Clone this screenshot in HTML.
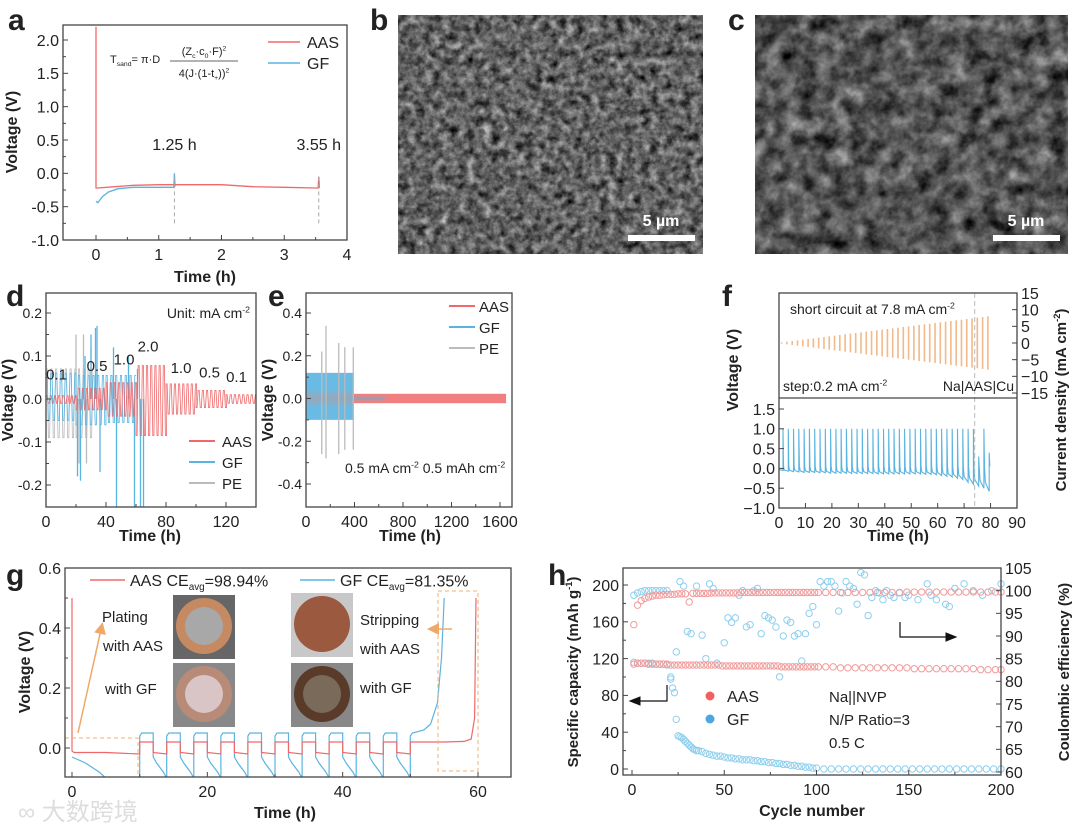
<!DOCTYPE html>
<html><head><meta charset="utf-8"><style>
html,body{margin:0;padding:0;background:#fff;}
svg{display:block;font-family:"Liberation Sans","Noto Sans CJK SC",sans-serif;}
text{fill:#222;}
</style></head><body>
<svg id="fig" width="1080" height="834" viewBox="0 0 1080 834" xmlns="http://www.w3.org/2000/svg">
<defs>
<filter id="semB" x="0" y="0" width="100%" height="100%" color-interpolation-filters="sRGB"><feTurbulence type="fractalNoise" baseFrequency="0.12" numOctaves="4" seed="4"/><feColorMatrix type="matrix" values="0.6 0.6 0 0 -0.22  0.6 0.6 0 0 -0.22  0.6 0.6 0 0 -0.22  0 0 0 0 1"/></filter>
<filter id="semC" x="0" y="0" width="100%" height="100%" color-interpolation-filters="sRGB"><feTurbulence type="fractalNoise" baseFrequency="0.06" numOctaves="4" seed="9"/><feColorMatrix type="matrix" values="0.55 0.55 0 0 -0.22  0.55 0.55 0 0 -0.22  0.55 0.55 0 0 -0.22  0 0 0 0 1"/></filter>
<marker id="arrO" markerWidth="8" markerHeight="8" refX="6" refY="4" orient="auto"><path d="M0,0 L8,4 L0,8 z" fill="#f0a868"/></marker>
<marker id="arrK" markerWidth="10" markerHeight="8" refX="8" refY="4" orient="auto"><path d="M0,0 L10,4 L0,8 z" fill="#111"/></marker>
</defs>
<g>
<rect x="398" y="15" width="305" height="239" fill="#666" filter="url(#semB)"/>
<line x1="628" y1="238" x2="695" y2="238" stroke="#fff" stroke-width="6"/>
<text x="661" y="226" text-anchor="middle" font-size="16" font-weight="bold" style="fill:#fff">5 µm</text>
</g>
<g>
<rect x="755" y="15" width="313" height="239" fill="#555" filter="url(#semC)"/>
<line x1="993" y1="238" x2="1060" y2="238" stroke="#fff" stroke-width="6"/>
<text x="1026" y="226" text-anchor="middle" font-size="16" font-weight="bold" style="fill:#fff">5 µm</text>
</g>
<g font-weight="bold" font-size="30">
<text x="8" y="30">a</text>
<text x="370" y="30">b</text>
<text x="728" y="30">c</text>
<text x="6" y="306">d</text>
<text x="268" y="306">e</text>
<text x="722" y="306">f</text>
<text x="6" y="585">g</text>
<text x="548" y="585">h</text>
</g>
<text x="18" y="820" font-size="24" style="fill:#ddd">∞ 大数跨境</text>
</svg>
<script>
// ---------- data ----------
const aT=[0,0,0.03,0.3,0.6,1.0,1.25,1.5,2.0,2.5,3.0,3.5,3.54,3.55,3.56];
const aAAS=[2.2,-0.22,-0.22,-0.2,-0.18,-0.17,-0.17,-0.17,-0.17,-0.2,-0.21,-0.22,-0.22,-0.05,-0.22];
const aGFt=[0,0.03,0.1,0.2,0.35,0.6,1.0,1.24,1.25,1.26];
const aGF=[-0.42,-0.44,-0.35,-0.28,-0.23,-0.21,-0.21,-0.21,0.0,-0.2];
const aMarks=[1.25,3.55];
const dSeg=[0,20,40,60,80,100,120,140];
const dAASup=[0.008,0.025,0.038,0.078,0.035,0.02,0.01];
const dAASdn=[-0.01,-0.025,-0.04,-0.085,-0.035,-0.02,-0.01];
const dGFup=[0.06,0.055,0.055];
const dGFdn=[-0.05,-0.06,-0.055];
const dGFspT=[21,23,26,30,33,34,36,45,47,55,59,61,63,65];
const dGFspV=[-0.18,-0.19,0.1,0.15,0.165,0.17,-0.17,0.12,-0.26,0.1,-0.26,0.07,-0.26,-0.25];
const dPEup=[0.07,0.07];
const dPEdn=[-0.09,-0.09];
const dPEseg=[0,20,32];
const dPEspT=[20,22,25,27,30];
const dPEspV=[0.15,-0.15,0.15,-0.15,0.12];
const dRates=["0.1","0.5","1.0","2.0","1.0","0.5","0.1"];
const dRateT=[7,34,52,68,90,109,127];
const dRateV=[0.045,0.065,0.08,0.11,0.06,0.05,0.04];
const eAASamp=0.022;
const eAASend=1650;
const eGFup=0.12, eGFdn=-0.1, eGFend=395;
const ePEamp=0.03;
const ePEspT=[130,165,270,320,390];
const ePEspUp=[0.22,0.34,0.26,0.24,0.24];
const ePEspDn=[-0.26,-0.28,-0.26,-0.24,-0.24];
const fCurr=[0.2,0.4,0.6,0.8,1.0,1.2,1.4,1.6,1.8,2.0,2.2,2.4,2.6,2.8,3.0,3.2,3.4,3.6,3.8,4.0,4.2,4.4,4.6,4.8,5.0,5.2,5.4,5.6,5.8,6.0,6.2,6.4,6.6,6.8,7.0,7.2,7.4,7.6,7.8,8.0];
const fVlow=[-0.05,-0.07,-0.08,-0.09,-0.1,-0.1,-0.1,-0.11,-0.11,-0.12,-0.12,-0.12,-0.12,-0.13,-0.13,-0.13,-0.13,-0.13,-0.14,-0.14,-0.14,-0.14,-0.14,-0.14,-0.14,-0.14,-0.14,-0.15,-0.15,-0.16,-0.18,-0.2,-0.22,-0.25,-0.28,-0.35,-0.4,-0.45,-0.5,-0.58];
const fVhigh=[1,1,1,1,1,1,1,1,1,1,1,1,1,1,1,1,1,1,1,1,1,1,1,1,1,1,1,1,1,1,1,1,1,1,1,1,1,0.3,1,0.4];
const fShort=74;
const gAASt=[0,0,0.3,5,9.9,10,10,12,12,14,14,16,16,18,18,20,20,22,22,24,24,26,26,28,28,30,30,32,32,34,34,36,36,38,38,40,40,42,42,44,44,46,46,48,48,50,50,55,58,59,59.5,59.7];
const gAAS=[0.5,-0.01,-0.015,-0.015,-0.02,-0.02,0.02,0.02,-0.015,-0.02,0.02,0.02,-0.015,-0.02,0.02,0.02,-0.015,-0.02,0.02,0.02,-0.015,-0.02,0.02,0.02,-0.015,-0.02,0.02,0.02,-0.015,-0.02,0.02,0.02,-0.015,-0.02,0.02,0.02,-0.015,-0.02,0.02,0.02,-0.015,-0.02,0.02,0.02,-0.015,-0.02,0.02,0.02,0.022,0.03,0.1,0.5];
const gGFt=[0,0.5,2,4,5,6,10,10,10.3,12,12,12.5,13.5,14,14,14.3,16,16,16.5,17.5,18,18,18.3,20,20,20.5,21.5,22,22,22.3,24,24,24.5,25.5,26,26,26.3,28,28,28.5,29.5,30,30,30.3,32,32,32.5,33.5,34,34,34.3,36,36,36.5,37.5,38,38,38.3,40,40,40.5,41.5,42,42,42.3,44,44,44.5,45.5,46,46,46.3,48,48,48.5,49.5,50,50,50.3,52,53,54,54.6,55];
const gGF=[-0.03,-0.035,-0.05,-0.08,-0.1,-0.1,-0.1,0.04,0.05,0.05,-0.03,-0.05,-0.08,-0.1,0.04,0.05,0.05,-0.03,-0.05,-0.08,-0.1,0.04,0.05,0.05,-0.03,-0.05,-0.08,-0.1,0.04,0.05,0.05,-0.03,-0.05,-0.08,-0.1,0.04,0.05,0.05,-0.03,-0.05,-0.08,-0.1,0.04,0.05,0.05,-0.03,-0.05,-0.08,-0.1,0.04,0.05,0.05,-0.03,-0.05,-0.08,-0.1,0.04,0.05,0.05,-0.03,-0.05,-0.08,-0.1,0.04,0.05,0.05,-0.03,-0.05,-0.08,-0.1,0.04,0.05,0.05,-0.03,-0.05,-0.08,-0.1,0.04,0.05,0.06,0.08,0.15,0.3,0.5];
const hCyc=[1,3,5,7,9,11,13,15,17,19,21,23,25,27,29,31,33,35,37,39,41,43,45,47,49,51,53,55,57,59,61,63,65,67,69,71,73,75,77,79,81,83,85,87,89,91,93,95,97,99,101,105,109,113,117,121,125,129,133,137,141,145,149,153,157,161,165,169,173,177,181,185,189,193,197,200];
const hAASCap=[114,115,115,115,114,114,114,114,114,114,113,113,113,113,113,113,113,113,113,113,113,113,113,113,112,112,112,112,112,112,112,112,112,112,112,112,112,112,112,112,111,111,111,111,111,111,111,111,111,111,111,111,111,110,110,110,110,110,110,110,110,110,110,109,109,109,109,109,109,109,109,109,108,108,108,108];
const hAASCE=[92.5,96.8,97.8,98.3,98.6,98.8,99,99,99.1,99.2,99.2,99.2,99.3,99.3,99.3,97.5,99.4,99.4,99.4,99.4,99.4,99.5,99.5,99.5,99.5,99.5,99.5,99.5,99.5,99.6,99.6,99.6,99.6,99.6,99.6,99.6,99.6,99.6,99.6,99.6,99.6,99.6,99.6,99.6,99.6,99.6,99.6,99.6,99.6,99.6,99.6,99.6,99.6,99.6,99.6,99.6,99.6,99.6,99.6,99.6,99.6,99.6,99.7,99.7,99.7,99.7,99.7,99.7,99.7,99.7,99.7,99.7,99.7,99.7,99.7,99.7];
const hGFcyc=[1,3,5,7,9,11,13,15,17,19,21,22,23,24,25,26,27,28,29,30,31,32,33,34,35,36,38,40,42,44,46,48,50,52,54,56,58,60,62,64,66,68,70,72,74,76,78,80,82,84,86,88,90,92,94,96,98,100,104,108,112,116,120,124,128,132,136,140,144,148,152,156,160,164,168,172,176,180,184,188,192,196,200];
const hGFCap=[116,115,115,115,115,115,114,114,114,113,100,88,83,54,36,35,34,32,30,28,26,24,22,21,20,20,19,17,16,15,14,14,13,12,12,11,11,10,10,10,9,9,8,8,7,7,6,6,5,5,4,4,3,3,2,2,1,1,0,0,0,0,0,0,0,0,0,0,0,0,0,0,0,0,0,0,0,0,0,0,0,0,0];
const hGFCEc=[1,3,5,7,9,11,13,15,17,19,21,24,26,28,30,32,35,38,40,42,44,46,50,52,54,56,58,60,62,64,66,68,70,72,74,76,78,80,82,84,86,88,90,92,94,96,98,100,102,104,106,108,110,112,114,116,118,120,122,124,126,128,130,132,134,136,138,140,142,145,148,150,155,160,162,165,170,172,175,180,185,190,195,200];
const hGFCE=[99,99.5,99.8,100,100,100,100,100,100,100,80.5,86.5,102,101,91,90.5,101,90.2,85,101.5,100.5,84,88.5,94,93,94,99,100,92,92.5,100,100.5,90.5,94.5,94,93.5,92,81,90,93.5,93,90,90.5,84.5,90.5,95,96.5,92.5,102,101,102,102,101,95.5,99.5,102,101,100.5,97,104,103.5,94.5,98.5,100,99.5,98,100,99,98.5,99.5,98.5,99,98,101.5,99,98,97,96.5,100.5,101.5,100,99,100,101.5];

// ---------- helpers ----------
const svg=document.getElementById('fig');
const NS='http://www.w3.org/2000/svg';
function mk(tag,attrs,parent){const e=document.createElementNS(NS,tag);for(const k in attrs)e.setAttribute(k,attrs[k]);(parent||svg).appendChild(e);return e;}
function lin(d0,d1,r0,r1){return v=>r0+(v-d0)*(r1-r0)/(d1-d0);}
function txt(x,y,s,fs,anchor,weight,rot){const t=mk('text',{x:x,y:y,'font-size':fs,'text-anchor':anchor||'start','font-weight':weight||'normal'});if(rot)t.setAttribute('transform','rotate('+rot+' '+x+' '+y+')');t.textContent=s;return t;}
function rtxt(x,y,parts,fs,anchor,weight,rot){const t=mk('text',{x:x,y:y,'font-size':fs,'text-anchor':anchor||'start','font-weight':weight||'normal'});if(rot)t.setAttribute('transform','rotate('+rot+' '+x+' '+y+')');
parts.forEach(p=>{const s=mk('tspan',{},t);s.textContent=p[0];if(p[1]==='sup'){s.setAttribute('font-size',fs*0.62);s.setAttribute('dy',-fs*0.4);}else if(p[1]==='sub'){s.setAttribute('font-size',fs*0.62);s.setAttribute('dy',fs*0.25);}
if(p[2])s.setAttribute('dy',p[2]);});return t;}
function frame(name,x0,y0,x1,y1){const r=mk('rect',{x:x0,y:y0,width:x1-x0,height:y1-y0,fill:'none',stroke:'#444','stroke-width':1.3});

}
function xAxis(pfx,sx,vals,labels,y,fs,minor){vals.forEach((v,i)=>{const l=mk('line',{x1:sx(v),x2:sx(v),y1:y,y2:y-5,stroke:'#444'});


const t=txt(sx(v),y+fs+4,labels[i],fs,'middle');


if(minor&&i<vals.length-1){const m=(v+vals[i+1])/2;mk('line',{x1:sx(m),x2:sx(m),y1:y,y2:y-3,stroke:'#444'});}});}
function yAxis(pfx,sy,vals,labels,x,fs,right,minor){vals.forEach((v,i)=>{const l=mk('line',{x1:x,x2:right?x-5:x+5,y1:sy(v),y2:sy(v),stroke:'#444'});


const t=txt(right?x+4:x-4,sy(v)+fs*0.36,labels[i],fs,right?'start':'end');


if(minor&&i<vals.length-1){const m=(v+vals[i+1])/2;mk('line',{x1:x,x2:right?x-3:x+3,y1:sy(m),y2:sy(m),stroke:'#444'});}});}
function path(xs,ys,sx,sy,color,w){let d='';xs.forEach((x,i)=>{d+=(i?'L':'M')+sx(x).toFixed(1)+','+sy(ys[i]).toFixed(1);});return mk('path',{d:d,fill:'none',stroke:color,'stroke-width':w||1.2});}
function wave(segs,ups,dns,step,sx,sy,color,w){let d='';let k=0;for(let s=0;s<ups.length;s++){for(let t=segs[s];t<segs[s+1];t+=step){const v=(k%2===0)?ups[s]:dns[s];d+=(d?'L':'M')+sx(t).toFixed(1)+','+sy(v).toFixed(1);d+='L'+sx(t+step*0.5).toFixed(1)+','+sy(v).toFixed(1);k++;}}return mk('path',{d:d,fill:'none',stroke:color,'stroke-width':w||1});}
const RED='#f0686a',BLUE='#5ab4e0',GRAY='#bbbbbb';

// ---------- panel a ----------
{const sx=lin(0,4,96,347),sy=lin(-1,2,240,40);
let p=path(aGFt,aGF,sx,sy,BLUE,1.3);


p=path(aT,aAAS,sx,sy,RED,1.3);


aMarks.forEach(m=>{const l=mk('line',{x1:sx(m),x2:sx(m),y1:sy(-0.75),y2:sy(-0.05),stroke:'#aaa','stroke-dasharray':'4,3'});


const t=txt(sx(m),sy(0.35),m.toFixed(2)+' h',16,'middle');

});
frame('a-plot-frame',63,25,347,240);
xAxis('a',sx,[0,1,2,3,4],['0','1','2','3','4'],240,16,true);
yAxis('a',sy,[-1,-0.5,0,0.5,1,1.5,2],['-1.0','-0.5','0.0','0.5','1.0','1.5','2.0'],63,16,false,true);
let t=txt(17,132,'Voltage (V)',16,'middle','bold',-90);


t=txt(205,282,'Time (h)',16,'middle','bold');


t=rtxt(110,63,[['T',''],['sand','sub'],['= π·D','','-2.7']],11);


rtxt(204,55,[['(Z',''],['c','sub'],['·c','','-2.7'],['0','sub'],['·F)','','-2.7'],['2','sup']],11,'middle');
rtxt(204,77,[['4(J·(1-t',''],['+','sub'],['))','','-2.7'],['2','sup']],11,'middle');
mk('line',{x1:170,x2:238,y1:61,y2:61,stroke:'#333','stroke-width':0.8});
let l=mk('line',{x1:268,x2:300,y1:42,y2:42,stroke:RED,'stroke-width':1.5});


t=txt(307,48,'AAS',16);


l=mk('line',{x1:268,x2:300,y1:63,y2:63,stroke:BLUE,'stroke-width':1.5});


t=txt(307,69,'GF',16);

}

// ---------- panel d ----------
{const sx=lin(0,140,46,256),sy=lin(-0.2,0.2,485,313);
const cl=mk('clipPath',{id:'clipD'});mk('rect',{x:46,y:293,width:210,height:214},cl);
const g=mk('g',{'clip-path':'url(#clipD)'});
let w=wave(dPEseg,dPEup,dPEdn,1.6,sx,sy,GRAY,0.8);g.appendChild(w);


dPEspT.forEach((t,i)=>{const l=mk('line',{x1:sx(t),x2:sx(t),y1:sy(0),y2:sy(dPEspV[i]),stroke:GRAY,'stroke-width':1.3},g);

});
w=wave(dSeg.slice(0,4),dGFup,dGFdn,1.6,sx,sy,BLUE,0.8);g.appendChild(w);


dGFspT.forEach((t,i)=>{const l=mk('line',{x1:sx(t),x2:sx(t),y1:sy(0),y2:sy(dGFspV[i]),stroke:BLUE,'stroke-width':1.3},g);

});
w=wave(dSeg,dAASup,dAASdn,1.4,sx,sy,RED,0.8);g.appendChild(w);


dRates.forEach((r,i)=>{const t=txt(sx(dRateT[i]),sy(dRateV[i]),r,15,'middle');

});
frame('d-plot-frame',46,293,256,507);
xAxis('d',sx,[0,40,80,120],['0','40','80','120'],507,16);
[20,60,100,140].forEach(v=>mk('line',{x1:sx(v),x2:sx(v),y1:507,y2:504,stroke:'#444'}));
yAxis('d',sy,[-0.2,-0.1,0,0.1,0.2],['-0.2','-0.1','0.0','0.1','0.2'],46,14,false,true);
let t=txt(13,400,'Voltage (V)',16,'middle','bold',-90);


t=txt(150,541,'Time (h)',16,'middle','bold');


t=rtxt(250,318,[['Unit: mA cm',''],['-2','sup']],14,'end');


const lg=[['AAS',RED],['GF',BLUE],['PE',GRAY]];
lg.forEach((e,i)=>{const l=mk('line',{x1:189,x2:215,y1:441+i*21,y2:441+i*21,stroke:e[1],'stroke-width':2});


const q=txt(222,447+i*21,e[0],15);

});}

// ---------- panel e ----------
{const sx=lin(0,1600,306,500),sy=lin(-0.4,0.4,484,313);
let b=mk('rect',{x:sx(eGFend),y:sy(eAASamp),width:sx(eAASend)-sx(eGFend),height:sy(-eAASamp)-sy(eAASamp),fill:RED,opacity:0.85});


b=mk('rect',{x:sx(0),y:sy(eGFup),width:sx(eGFend)-sx(0),height:sy(eGFdn)-sy(eGFup),fill:BLUE,opacity:0.9});


b=mk('rect',{x:sx(0),y:sy(ePEamp*0.3),width:sx(650)-sx(0),height:sy(-ePEamp*0.3)-sy(ePEamp*0.3),fill:'#8fa3b8',opacity:0.8});


mk('rect',{x:sx(0),y:sy(ePEamp),width:sx(eGFend)-sx(0),height:sy(-ePEamp)-sy(ePEamp),fill:'#9aa8b8',opacity:0.6});
ePEspT.forEach((t,i)=>{const l=mk('line',{x1:sx(t),x2:sx(t),y1:sy(ePEspDn[i]),y2:sy(ePEspUp[i]),stroke:GRAY,'stroke-width':1.3});

});
frame('e-plot-frame',306,293,512,507);
xAxis('e',sx,[0,400,800,1200,1600],['0','400','800','1200','1600'],507,16,true);
yAxis('e',sy,[-0.4,-0.2,0,0.2,0.4],['-0.4','-0.2','0.0','0.2','0.4'],306,14,false,true);
let t=txt(273,400,'Voltage (V)',16,'middle','bold',-90);


t=txt(410,541,'Time (h)',16,'middle','bold');


t=rtxt(345,473,[['0.5 mA cm',''],['-2','sup'],['  0.5 mAh cm','','5.6'],['-2','sup']],14);


const lg=[['AAS',RED],['GF',BLUE],['PE',GRAY]];
lg.forEach((e,i)=>{const l=mk('line',{x1:449,x2:475,y1:306+i*21,y2:306+i*21,stroke:e[1],'stroke-width':2});


const q=txt(479,312+i*21,e[0],15);

});}

// ---------- panel f ----------
{const sx=lin(0,90,779,1017),syI=lin(-15,15,393,293),syV=lin(-1,1.5,508,409);
fCurr.forEach((c,i)=>{const t=2*i+1;const l=mk('line',{x1:sx(t),x2:sx(t),y1:syI(c),y2:syI(-c),stroke:'#f2b98a','stroke-width':1.6});

});
let d='';fVlow.forEach((v,i)=>{const t0=2*i;d+=(d?'L':'M')+sx(t0).toFixed(1)+','+syV(v*0.6).toFixed(1)+'L'+sx(t0+1.5).toFixed(1)+','+syV(v).toFixed(1)+'L'+sx(t0+1.5).toFixed(1)+','+syV(fVhigh[i]).toFixed(1)+'L'+sx(t0+1.7).toFixed(1)+','+syV(0.05).toFixed(1);});
const vp=mk('path',{d:d,fill:'none',stroke:BLUE,'stroke-width':1.1});


const sl=mk('line',{x1:sx(fShort),x2:sx(fShort),y1:293,y2:508,stroke:'#bbb','stroke-dasharray':'5,3'});


frame('f-plot-frame',779,293,1017,508);
mk('line',{x1:779,x2:1017,y1:398,y2:398,stroke:'#444','stroke-width':1.3});
xAxis('f',sx,[0,10,20,30,40,50,60,70,80,90],['0','10','20','30','40','50','60','70','80','90'],508,16);
yAxis('f',syV,[-1,-0.5,0,0.5,1,1.5],['−1.0','−0.5','0.0','0.5','1.0','1.5'],779,16);
yAxis('fr',syI,[-15,-10,-5,0,5,10,15],['−15','−10','−5','0','5','10','15'],1017,16,true);
let t=txt(738,370,'Voltage (V)',16,'middle','bold',-90);


t=rtxt(1066,400,[['Current density (mA cm',''],['-2','sup'],[')','','6']],15,'middle','bold',-90);


t=txt(898,541,'Time (h)',16,'middle','bold');


t=rtxt(790,314,[['short circuit at 7.8 mA cm',''],['-2','sup']],14);


t=rtxt(783,391,[['step:0.2 mA cm',''],['-2','sup']],14);


t=txt(1014,391,'Na|AAS|Cu',14,'end');

}

// ---------- panel g ----------
{const sx=lin(0,60,72,478),sy=lin(0,0.6,748,568);
const cl=mk('clipPath',{id:'clipG'});mk('rect',{x:65,y:568,width:446,height:209},cl);
const g=mk('g',{'clip-path':'url(#clipG)'});
let p=path(gGFt,gGF,sx,sy,BLUE,1.2);g.appendChild(p);


p=path(gAASt,gAAS,sx,sy,RED,1.2);g.appendChild(p);


let r=mk('rect',{x:65,y:738,width:73,height:39,fill:'none',stroke:'#f0b070','stroke-dasharray':'4,3'});


r=mk('rect',{x:438,y:591,width:40,height:180,fill:'none',stroke:'#f0b070','stroke-dasharray':'4,3'});


let a=mk('line',{x1:78,y1:733,x2:102,y2:625,stroke:'#f0a868','stroke-width':1.5,'marker-end':'url(#arrO)'});


a=mk('line',{x1:452,y1:629,x2:430,y2:629,stroke:'#f0a868','stroke-width':1.5,'marker-end':'url(#arrO)'});


const photos=[[173,595,'#666','#c68a62','#a8a8a8','photo-plating-aas'],[173,663,'#888','#b88a78','#d9c5c5','photo-plating-gf'],[291,593,'#c8c8c8','#9b5a40','#9b5a40','photo-stripping-aas'],[291,663,'#888','#5a3a28','#7a6a5a','photo-stripping-gf']];
photos.forEach(ph=>{const gg=mk('g',{});


mk('rect',{x:ph[0],y:ph[1],width:62,height:64,fill:ph[2]},gg);
mk('circle',{cx:ph[0]+31,cy:ph[1]+31,r:28,fill:ph[3]},gg);
mk('circle',{cx:ph[0]+31,cy:ph[1]+31,r:19,fill:ph[4]},gg);});
const labs=[[102,622,'Plating'],[103,651,'with AAS'],[105,694,'with GF'],[360,625,'Stripping'],[360,654,'with AAS'],[360,693,'with GF']];
labs.forEach(L=>{const t=txt(L[0],L[1],L[2],15);

});
frame('g-plot-frame',65,568,511,777);
xAxis('g',sx,[0,20,40,60],['0','20','40','60'],777,16,true);
yAxis('g',sy,[0,0.2,0.4,0.6],['0.0','0.2','0.4','0.6'],65,16,false,true);
let t=txt(30,672,'Voltage (V)',16,'middle','bold',-90);


t=txt(285,818,'Time (h)',16,'middle','bold');


let l=mk('line',{x1:90,x2:125,y1:580,y2:580,stroke:RED,'stroke-width':1.5});


t=rtxt(130,586,[['AAS CE',''],['avg','sub'],['=98.94%','','-3.5']],16);


l=mk('line',{x1:300,x2:335,y1:580,y2:580,stroke:BLUE,'stroke-width':1.5});


t=rtxt(340,586,[['GF   CE',''],['avg','sub'],['=81.35%','','-3.5']],16);

}

// ---------- panel h ----------
{const sx=lin(0,200,632,1001),sy=lin(0,200,769,585),syR=lin(60,105,772,568);
function dots(xs,ys,s,color,name){const g=mk('g',{});


xs.forEach((x,i)=>{mk('circle',{cx:sx(x),cy:s(ys[i]),r:3.2,fill:'none',stroke:color,'stroke-width':1},g);});}
dots(hGFCEc,hGFCE,syR,'#8ecfee','h-gf-ce-points');
dots(hCyc,hAASCE,syR,'#f29a9a','h-aas-ce-points');
dots(hGFcyc,hGFCap,sy,'#8ecfee','h-gf-capacity-points');
dots(hCyc,hAASCap,sy,'#f29a9a','h-aas-capacity-points');
frame('h-plot-frame',623,568,1001,775);
xAxis('h',sx,[0,50,100,150,200],['0','50','100','150','200'],775,16,true);
yAxis('h',sy,[0,40,80,120,160,200],['0','40','80','120','160','200'],623,16,false,true);
yAxis('hr',syR,[60,65,70,75,80,85,90,95,100,105],['60','65','70','75','80','85','90','95','100','105'],1001,16,true);
let t=rtxt(578,672,[['Specific capacity (mAh g',''],['-1','sup'],[')','','6']],15,'middle','bold',-90);


t=txt(1069,672,'Coulombic efficiency (%)',15,'middle','bold',-90);


t=txt(812,816,'Cycle number',16,'middle','bold');


let a=mk('path',{d:'M900,622 L900,637 L955,637',fill:'none',stroke:'#111','stroke-width':1.2,'marker-end':'url(#arrK)'});


a=mk('path',{d:'M667,685 L667,701 L631,701',fill:'none',stroke:'#111','stroke-width':1.2,'marker-end':'url(#arrK)'});


let c=mk('circle',{cx:710,cy:696,r:4.5,fill:'#f06060'});


t=txt(727,702,'AAS',16);


c=mk('circle',{cx:710,cy:719,r:4.5,fill:'#4aa8e0'});


t=txt(727,725,'GF',16);


[['Na||NVP',702],['N/P Ratio=3',725],['0.5 C',748]].forEach(L=>{const q=txt(829,L[1],L[0],15);

});}
</script>
</body></html>
